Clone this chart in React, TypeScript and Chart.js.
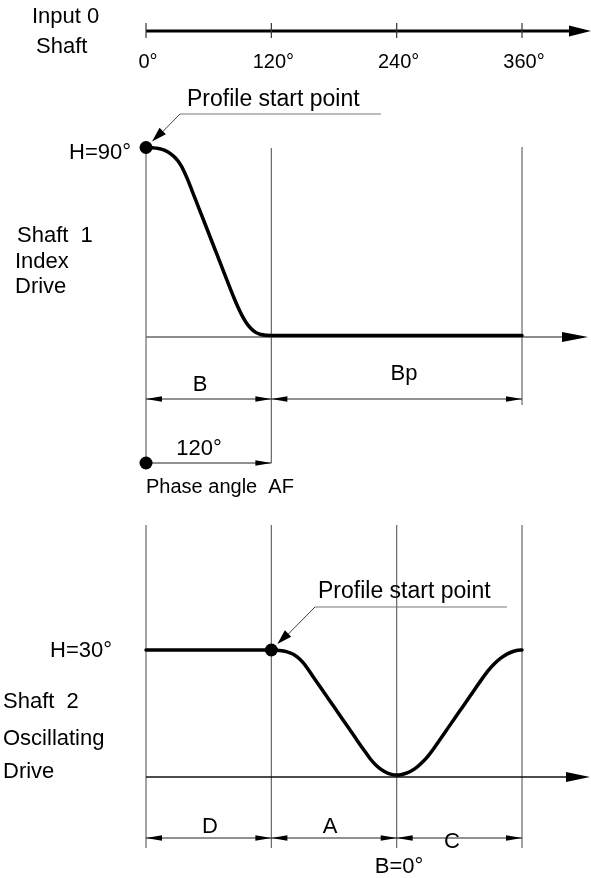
import { useEffect, useRef } from 'react';
import { Chart, registerables } from 'chart.js';

Chart.register(...registerables);

// ---- data ----
const INPUT_TICKS = [0, 120, 240, 360];

const SHAFT1_H = 90;
const SHAFT1_DEG = [0, 6, 12, 18, 24, 30, 34, 37, 40, 44, 48, 56, 64, 72, 80, 84, 88, 92, 96, 100, 105, 110, 115, 120, 360];
const SHAFT1_POS = [90, 89.9, 89.5, 88.6, 86.8, 84.0, 81.0, 77.9, 74.5, 69.4, 64.3, 54.1, 43.8, 33.6, 23.3, 18.3, 13.6, 9.5, 6.1, 3.6, 1.5, 0.45, 0.08, 0, 0];

const SHAFT2_H = 30;
const SHAFT2_DEG = [0, 120, 125, 130, 135, 140, 145, 150, 155, 160, 170, 180, 190, 200, 205, 210, 215, 220, 225, 230, 235, 240, 245, 250, 255, 260, 265, 270, 275.7, 280, 290, 300, 310, 321.9, 328, 334, 340, 346, 352, 356, 360];
const SHAFT2_POS = [30, 30, 29.95, 29.8, 29.55, 29.1, 28.3, 27.1, 25.45, 23.6, 19.96, 16.36, 12.73, 9.1, 7.28, 5.5, 3.78, 2.42, 1.36, 0.61, 0.15, 0, 0.13, 0.51, 1.14, 2.02, 3.16, 4.55, 6.44, 8.0, 11.61, 15.22, 18.83, 23.13, 25.15, 26.8, 28.1, 29.07, 29.7, 29.92, 30];

const SHAFT1_DIMS: [number, number, string][] = [[0, 120, 'B'], [120, 360, 'Bp']];
const SHAFT2_DIMS: [number, number, string][] = [[0, 120, 'D'], [120, 240, 'A'], [240, 360, 'C']];
const PHASE_ANGLE = 120;
const PROFILE_START_2 = 120;

const FONT = '"Liberation Sans", Arial, Helvetica, sans-serif';

function txt(ctx: CanvasRenderingContext2D, s: string, x: number, y: number, size: number, align: CanvasTextAlign = 'center') {
  ctx.font = `${size}px ${FONT}`;
  ctx.textAlign = align;
  ctx.textBaseline = 'alphabetic';
  ctx.fillStyle = '#000';
  ctx.fillText(s, x, y);
}

function seg(ctx: CanvasRenderingContext2D, x1: number, y1: number, x2: number, y2: number, w = 1.2, color = '#666') {
  ctx.beginPath();
  ctx.moveTo(x1, y1);
  ctx.lineTo(x2, y2);
  ctx.lineWidth = w;
  ctx.strokeStyle = color;
  ctx.lineCap = 'butt';
  ctx.stroke();
}

function head(ctx: CanvasRenderingContext2D, tx: number, ty: number, dx: number, dy: number, len: number, half: number, color = '#000') {
  const L = Math.hypot(dx, dy);
  const ux = dx / L, uy = dy / L;
  const bx = tx - ux * len, by = ty - uy * len;
  const px = -uy, py = ux;
  ctx.beginPath();
  ctx.moveTo(tx, ty);
  ctx.lineTo(bx + px * half, by + py * half);
  ctx.lineTo(bx - px * half, by - py * half);
  ctx.closePath();
  ctx.fillStyle = color;
  ctx.fill();
}

function dimRow(ctx: CanvasRenderingContext2D, x1: number, x2: number, y: number) {
  seg(ctx, x1, y, x2, y, 1, '#222');
  head(ctx, x1, y, -1, 0, 16, 2.8);
  head(ctx, x2, y, 1, 0, 16, 2.8);
}

function dot(ctx: CanvasRenderingContext2D, x: number, y: number, r: number) {
  ctx.beginPath();
  ctx.arc(x, y, r, 0, Math.PI * 2);
  ctx.fillStyle = '#000';
  ctx.fill();
}

const diagramPlugin = {
  id: 'diagram',
  beforeDatasetsDraw(chart: any) {
    const ctx: CanvasRenderingContext2D = chart.ctx;
    const X = (v: number) => chart.scales.x.getPixelForValue(v);
    const Y1 = (v: number) => chart.scales.y1.getPixelForValue(v);
    const Y2 = (v: number) => chart.scales.y2.getPixelForValue(v);
    ctx.save();

    // --- Input shaft axis ---
    const ay = 31;
    seg(ctx, X(0), ay, 574, ay, 3, '#000');
    head(ctx, 591, ay, 1, 0, 22, 5.5);
    INPUT_TICKS.forEach((t) => seg(ctx, X(t), 23, X(t), 38, 1.2, '#333'));

    // --- Shaft 1 ---
    seg(ctx, X(0), Y1(SHAFT1_H), X(0), 463);
    seg(ctx, X(120), 148, X(120), 463);
    seg(ctx, X(360), 147, X(360), 405);
    const b1 = Y1(0) + 1.5;
    seg(ctx, X(0), b1, 566, b1, 1.3, '#666');
    head(ctx, 588, b1, 1, 0, 26, 5);

    // --- Shaft 2 ---
    INPUT_TICKS.forEach((t) => seg(ctx, X(t), 525, X(t), 848));
    const b2 = Y2(0) + 2;
    seg(ctx, X(0), b2, 570, b2, 1.3, '#111');
    head(ctx, 590, b2, 1, 0, 24, 5);

    ctx.restore();
  },
  afterDatasetsDraw(chart: any) {
    const ctx: CanvasRenderingContext2D = chart.ctx;
    const X = (v: number) => chart.scales.x.getPixelForValue(v);
    const Y1 = (v: number) => chart.scales.y1.getPixelForValue(v);
    const Y2 = (v: number) => chart.scales.y2.getPixelForValue(v);
    ctx.save();

    // --- Input shaft labels ---
    txt(ctx, 'Input 0', 32, 23, 22, 'left');
    txt(ctx, 'Shaft', 36, 53, 22, 'left');
    INPUT_TICKS.forEach((t) => txt(ctx, `${t}°`, X(t) + 2, 68, 20));

    // --- Shaft 1 labels ---
    txt(ctx, `H=${SHAFT1_H}°`, 131, 159, 22, 'right');
    txt(ctx, 'Shaft  1', 17, 242, 22, 'left');
    txt(ctx, 'Index', 15, 268, 22, 'left');
    txt(ctx, 'Drive', 15, 293, 22, 'left');

    // profile start point 1
    txt(ctx, 'Profile start point', 187, 106, 23, 'left');
    seg(ctx, 180, 114, 381, 114, 1, '#777');
    const p1x = X(0), p1y = Y1(SHAFT1_H);
    seg(ctx, 180, 114, p1x + 10, p1y - 9, 1, '#444');
    head(ctx, p1x + 6, p1y - 6, -(180 - p1x), -(114 - p1y), 15, 4.5);

    // dimensions 1
    SHAFT1_DIMS.forEach(([a, b]) => dimRow(ctx, X(a), X(b), 399));
    txt(ctx, SHAFT1_DIMS[0][2], 200, 391, 22);
    txt(ctx, SHAFT1_DIMS[1][2], 404, 380, 22);

    // phase angle
    txt(ctx, `${PHASE_ANGLE}°`, 199, 455, 22);
    seg(ctx, X(0), 463, X(PHASE_ANGLE), 463, 1, '#222');
    head(ctx, X(PHASE_ANGLE), 463, 1, 0, 16, 2.8);
    dot(ctx, X(0), 463, 6.5);
    txt(ctx, 'Phase angle  AF', 146, 493, 20, 'left');

    // --- Shaft 2 labels ---
    txt(ctx, `H=${SHAFT2_H}°`, 112, 657, 22, 'right');
    txt(ctx, 'Shaft  2', 3, 708, 22, 'left');
    txt(ctx, 'Oscillating', 3, 745, 22, 'left');
    txt(ctx, 'Drive', 3, 778, 22, 'left');

    // profile start point 2
    txt(ctx, 'Profile start point', 318, 598, 23, 'left');
    seg(ctx, 315, 607, 507, 607, 1, '#777');
    const p2x = X(PROFILE_START_2), p2y = Y2(SHAFT2_H);
    seg(ctx, 315, 607, p2x + 10, p2y - 9, 1, '#444');
    head(ctx, p2x + 6, p2y - 6, -(315 - p2x), -(607 - p2y), 15, 4.5);

    // dimensions 2
    SHAFT2_DIMS.forEach(([a, b]) => dimRow(ctx, X(a), X(b), 838));
    txt(ctx, SHAFT2_DIMS[0][2], 210, 833, 22);
    txt(ctx, SHAFT2_DIMS[1][2], 330, 833, 22);
    txt(ctx, SHAFT2_DIMS[2][2], 452, 848, 22);
    txt(ctx, 'B=0°', 399, 873, 22);

    ctx.restore();
  },
};

export default function App() {
  const ref = useRef<HTMLCanvasElement | null>(null);
  useEffect(() => {
    document.body.style.margin = '0';
    if (!ref.current) return;
    const chart = new Chart(ref.current, {
      type: 'line',
      data: {
        datasets: [
          {
            data: SHAFT1_DEG.map((d, i) => ({ x: d, y: SHAFT1_POS[i] })),
            yAxisID: 'y1',
            borderColor: '#000',
            borderWidth: 3.5,
            pointRadius: 0,
            cubicInterpolationMode: 'monotone',
            borderCapStyle: 'round',
            borderJoinStyle: 'round',
            fill: false,
          },
          {
            data: SHAFT2_DEG.map((d, i) => ({ x: d, y: SHAFT2_POS[i] })),
            yAxisID: 'y2',
            borderColor: '#000',
            borderWidth: 3.5,
            pointRadius: 0,
            cubicInterpolationMode: 'monotone',
            borderCapStyle: 'round',
            borderJoinStyle: 'round',
            fill: false,
          },
          {
            data: [{ x: 0, y: SHAFT1_H }],
            yAxisID: 'y1',
            showLine: false,
            pointRadius: 6.5,
            pointHoverRadius: 6.5,
            pointBackgroundColor: '#000',
            pointBorderWidth: 0,
          },
          {
            data: [{ x: PROFILE_START_2, y: SHAFT2_H }],
            yAxisID: 'y2',
            showLine: false,
            pointRadius: 6.5,
            pointHoverRadius: 6.5,
            pointBackgroundColor: '#000',
            pointBorderWidth: 0,
          },
        ] as any,
      },
      options: {
        animation: false,
        responsive: false,
        events: [],
        layout: { padding: 0, autoPadding: false },
        plugins: { legend: { display: false }, tooltip: { enabled: false } },
        scales: {
          x: { type: 'linear', min: -139.8, max: 426.05, display: false },
          y1: { type: 'linear', min: -259.71, max: 160.61, display: false },
          y2: { type: 'linear', min: -24.72, max: 186.0, display: false },
        },
      } as any,
      plugins: [diagramPlugin],
    });
    return () => chart.destroy();
  }, []);
  return (
    <div style={{ width: 591, height: 878, background: '#fff' }}>
      <canvas ref={ref} width={591} height={878} style={{ display: 'block' }} />
    </div>
  );
}
